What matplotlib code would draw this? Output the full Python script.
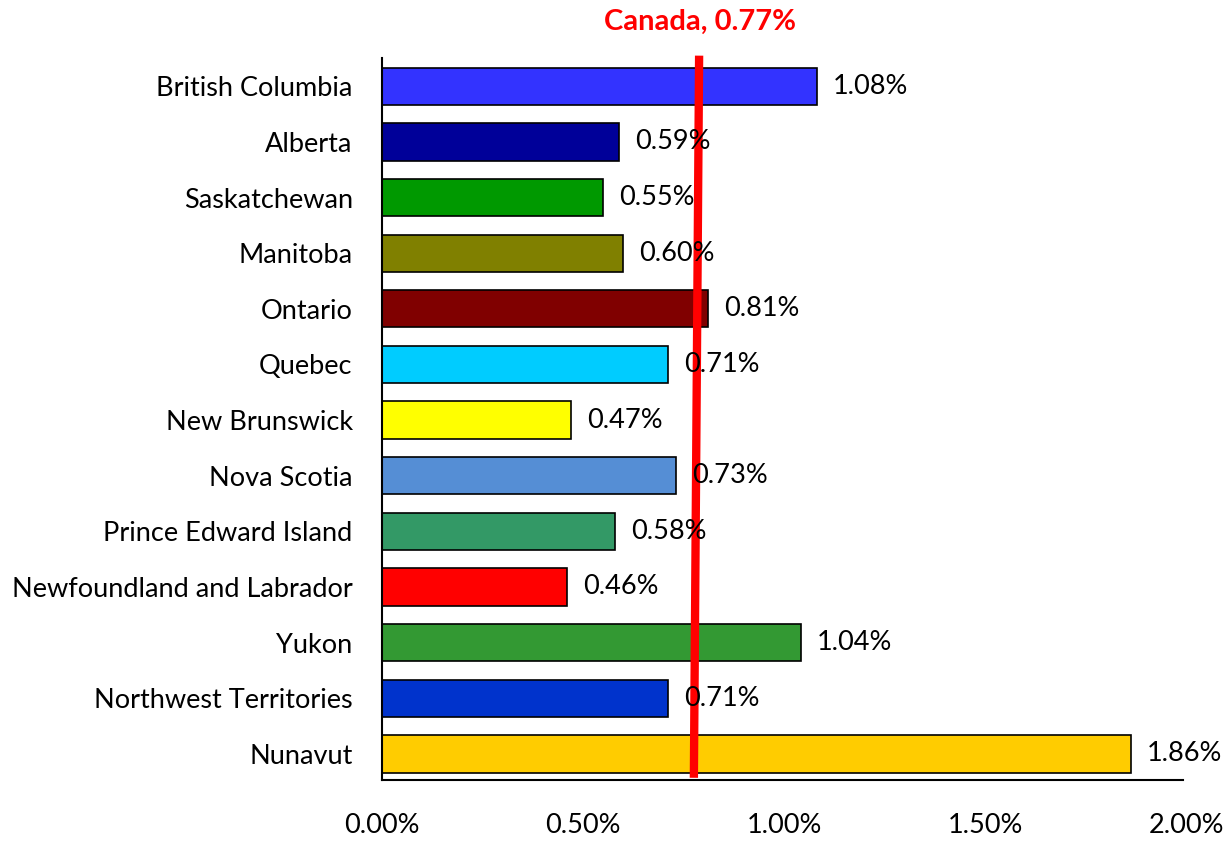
import matplotlib.pyplot as plt

plt.rcParams['font.family'] = ['Lato', 'DejaVu Sans']

provinces = ['British Columbia', 'Alberta', 'Saskatchewan', 'Manitoba', 'Ontario',
             'Quebec', 'New Brunswick', 'Nova Scotia', 'Prince Edward Island',
             'Newfoundland and Labrador', 'Yukon', 'Northwest Territories', 'Nunavut']
values = [1.08, 0.59, 0.55, 0.60, 0.81, 0.71, 0.47, 0.73, 0.58, 0.46, 1.04, 0.71, 1.86]
colors = ['#3333FF', '#000099', '#009900', '#808000', '#800000', '#00CCFF', '#FFFF00',
          '#558ED5', '#339966', '#FF0000', '#339933', '#0033CC', '#FFCC00']
canada = 0.77
xticks = [0.0, 0.5, 1.0, 1.5, 2.0]

fig = plt.figure(figsize=(12.28, 8.42), dpi=100)
ax = fig.add_axes([0.311, 0.0736, 0.6556, 0.857])

ypos = list(range(len(provinces)))[::-1]
ax.barh(ypos, values, height=0.67, color=colors, edgecolor='black', linewidth=1.2, zorder=2)

for y, v in zip(ypos, values):
    ax.text(v + 0.04, y, f'{v:.2f}%', va='center', ha='left', fontsize=19.5, zorder=4)

ax.set_yticks(ypos)
ax.set_yticklabels(provinces, fontsize=19.5)
ax.set_xticks(xticks)
ax.set_xticklabels([f'{t:.2f}%' for t in xticks], fontsize=19.5)
ax.set_xlim(0, 2)
ax.set_ylim(-0.47, 12.5)
ax.tick_params(axis='both', length=0)
ax.tick_params(axis='x', pad=24)
ax.tick_params(axis='y', pad=21)

for s in ['top', 'right']:
    ax.spines[s].set_visible(False)
ax.spines['left'].set_linewidth(1.5)
ax.spines['bottom'].set_linewidth(1.5)
ax.spines['bottom'].set_bounds(0, 1.99)

# Canada average line (slightly hand-drawn tilt)
ax.plot([canada + 0.018, canada + 0.005], [12.55, -0.43], color='#FF0000', lw=6,
        zorder=3, clip_on=False, solid_capstyle='butt')
ax.text(canada + 0.02, 13.15, f'Canada, {canada:.2f}%', color='#FF0000', fontsize=21,
        fontweight='bold', ha='center', va='center', clip_on=False)

fig.savefig('out.png', dpi=100, facecolor='white')
